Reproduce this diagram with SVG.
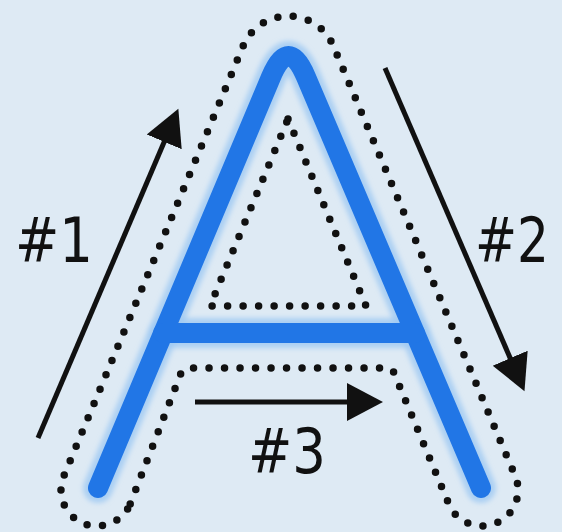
<svg xmlns="http://www.w3.org/2000/svg" width="562" height="532" viewBox="0 0 562 532">
  <defs>
    <filter id="glow" x="-20%" y="-20%" width="140%" height="140%">
      <feGaussianBlur stdDeviation="2.5"/>
    </filter>
    <marker id="ah" markerUnits="userSpaceOnUse" markerWidth="40" markerHeight="40" viewBox="0 -20 40 40" refX="2" refY="0" orient="auto">
      <path d="M0,-19 L36,0 L0,19 Z" fill="#111"/>
    </marker>
  </defs>
  <style>
    .bg { fill: #deeaf4; }
    .halo { fill: none; stroke: #9fc9f3; stroke-width: 30; stroke-linecap: round; stroke-linejoin: round; opacity: 0.8; }
    .stroke { fill: none; stroke: #2176e6; stroke-width: 20; stroke-linecap: round; stroke-linejoin: round; }
    .dots { fill: none; stroke: #111; stroke-width: 7.5; stroke-linecap: round; stroke-linejoin: round; stroke-dasharray: 0 15.5; }
    .arrow { fill: none; stroke: #111; stroke-width: 5; marker-end: url(#ah); }
    .label { font-family: 'DejaVu Sans Condensed', 'DejaVu Sans', sans-serif; font-size: 62px; fill: #111; text-anchor: middle; }
  </style>
  <rect class="bg" x="0" y="0" width="562" height="532"/>

  <g id="letter-A">
    <g filter="url(#glow)">
      <path class="halo" d="M98,488 L271,77 Q288.5,35 306,77 L481,488"/>
      <path class="halo" d="M163,333 L415,333"/>
    </g>
    <path class="stroke" d="M98,488 L271,77 Q288.5,35 306,77 L481,488"/>
    <path class="stroke" d="M163,333 L415,333"/>
  </g>

  <g id="outline-outer">
    <path class="dots" d="M130.2,504 L181,373 Q183,368 189,368 L386,368 Q392,368 394,373 L448.8,504 A36,36 0 0 0 515.2,476 L332.5,44 A49,49 0 0 0 244,44 L63.8,476 A36,36 0 0 0 130.2,504 Z"/>
  </g>

  <g id="outline-inner">
    <path class="dots" d="M288,119 L366,306 L210,306 Z"/>
  </g>

  <g id="connectors">
    <line class="arrow" x1="38" y1="438" x2="165" y2="140"/>
    <line class="arrow" x1="385" y1="68" x2="511" y2="360"/>
    <line class="arrow" x1="195" y1="402" x2="349" y2="402"/>
  </g>

  <g id="label-1"><text class="label" x="54" y="262" textLength="78" lengthAdjust="spacingAndGlyphs">#1</text></g>
  <g id="label-2"><text class="label" x="512" y="262" textLength="74" lengthAdjust="spacingAndGlyphs">#2</text></g>
  <g id="label-3"><text class="label" x="287" y="473" textLength="78" lengthAdjust="spacingAndGlyphs">#3</text></g>
</svg>
